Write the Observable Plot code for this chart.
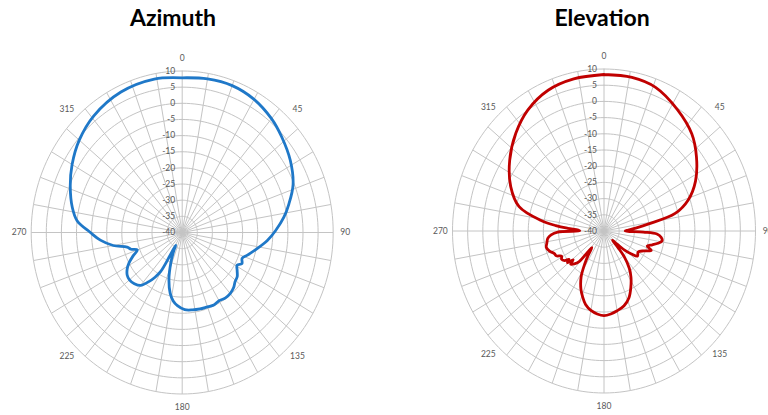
<!DOCTYPE html>
<html>
<head>
<meta charset="utf-8">
<script src="https://cdn.jsdelivr.net/npm/d3@7"></script>
<script src="https://cdn.jsdelivr.net/npm/@observablehq/plot@0.6"></script>
<style>
  html, body { margin: 0; padding: 0; background: #fff; width: 768px; height: 415px; overflow: hidden; }
  .title { position: absolute; font-family: Lato, "Open Sans", sans-serif; font-weight: 700; font-size: 23px; line-height: 23px; color: #000; transform: translateX(-50%); white-space: nowrap; }
  .panel { position: absolute; top: 35px; }
</style>
</head>
<body>
<div class="title" style="left:173px; top:6px;">Azimuth</div>
<div class="title" style="left:602px; top:6px;">Elevation</div>
<div id="az" class="panel" style="left:0px;"></div>
<div id="el" class="panel" style="left:384px;"></div>
<script>
// ---- data (angle in degrees, gain in dB) ----
const azAngle = [0,10,20,30,40,48,58,68,76,82,89,95,102,108,112,116,119,123,127,131,135,140,145,150,155,160,166,172,178,184,188,192,197,202,206,208.5,209.5,210.5,213,216,220,225,230,234,238,242,246,250,253,256,260,265,270,276,282,291,300,310,321,335,349,360];
const azGain  = [7.9,8.3,8.4,7.6,6.0,4.3,2.2,-0.4,-3.6,-6.0,-9.1,-11.7,-15,-17.3,-18.6,-18.0,-19.2,-18.3,-17.2,-16.8,-15.9,-15.3,-15.2,-15.6,-15.2,-15.5,-15.6,-15.8,-16.1,-17.3,-18.6,-20.8,-25,-30,-33.5,-35.5,-32,-26,-23.5,-21.2,-18.6,-17.6,-17.2,-17.5,-18.5,-20.1,-22.2,-24.2,-22.3,-21.2,-16.8,-12.8,-9.6,-5.0,-2.8,-0.3,2.1,4.5,6.5,8.0,8.4,7.9];

const elAngle = [0,11,21,33,44,53,63,71,77,81.5,85,88,90,91.5,93,96,99,102,105,108,111,115,120,125,128,131,134,136,138,140,144,148,153,158,164,170,175,180,185,190,195,199,203,208,212,215,218,219.5,221,224,227,229,231,233,235,238,241,244,247,251,255,259,263,266,268.7,270.5,272,274,276,279,285,294,305,316,326,337,348,360];
const elGain  = [8.3,8.3,7.5,4.6,1.7,-1.8,-6.1,-10.6,-15.9,-25.1,-29.5,-32,-33,-27,-22.5,-21,-20.6,-21.8,-23.5,-25,-23.3,-25.5,-27,-26.5,-28.5,-31,-35,-36,-33,-29.5,-25.8,-23.2,-20.5,-17.9,-16,-15,-14.3,-13.9,-14.3,-15.1,-16.5,-18.4,-20.5,-23.9,-28,-31,-33.5,-31.5,-27.5,-25.9,-25,-26.5,-24.5,-25.5,-24.1,-23.5,-24,-22.5,-22.2,-21,-20.3,-20.8,-21.3,-22.5,-24.7,-32,-31.5,-28,-24,-18.8,-11,-6.3,-2.0,1.9,5.0,7.2,8.0,8.3];

const ringLevels = [-35,-30,-25,-20,-15,-10,-5,0,5,10];
const dbLabels = [-40,-35,-30,-25,-20,-15,-10,-5,0,5,10];
const angleLabels = [0,45,90,135,180,225,270,315];
const spokeAngles = [0,10,20,30,40,50,60,70,80,90,100,110,120,130,140,150,160,170,180,190,200,210,220,230,240,250,260,270,280,290,300,310,320,330,340,350];

// ---- polar helpers ----
const G0 = -40, G1 = 10;
const rho = g => Math.max(0, (g - G0) / (G1 - G0));
const px = (a, r) => r * Math.sin(a * Math.PI / 180);
const py = (a, r) => r * Math.cos(a * Math.PI / 180);

const gridColor = "#c4c4c4";
const textColor = "#595959";
const font = "Lato, 'Open Sans', sans-serif";

function polarChart(angles, gains, color, cx, cy, rx, ry) {
  const series = angles.map((a, i) => ({a, g: gains[i]}));
  const ringData = ringLevels.flatMap(v => d3.range(0, 361, 2).map(a => ({v, a})));
  return Plot.plot({
    width: 384, height: 380, margin: 0,
    x: {domain: [-1, 1], range: [cx - rx, cx + rx], axis: null},
    y: {domain: [-1, 1], range: [cy + ry, cy - ry], axis: null},
    style: {background: "transparent", overflow: "visible"},
    marks: [
      Plot.line(ringData, {x: d => px(d.a, rho(d.v)), y: d => py(d.a, rho(d.v)), z: "v", stroke: gridColor, strokeWidth: 1}),
      Plot.link(spokeAngles, {x1: () => 0, y1: () => 0, x2: a => px(a, 1), y2: a => py(a, 1), stroke: gridColor, strokeWidth: 1}),
      Plot.text(dbLabels, {x: () => 0, y: g => py(0, rho(g)), text: g => String(g), textAnchor: "end", dx: -7, fill: textColor, fontSize: 8.5, fontFamily: font}),
      Plot.text(angleLabels, {x: a => px(a, 1.08), y: a => py(a, 1.08), text: a => String(a), fill: textColor, fontSize: 8.5, fontFamily: font}),
      Plot.line(series, {x: d => px(d.a, rho(d.g)), y: d => py(d.a, rho(d.g)), stroke: color, strokeWidth: 2.8, strokeLinejoin: "round", curve: "catmull-rom"})
    ]
  });
}

document.getElementById("az").append(polarChart(azAngle, azGain, "#1f78c8", 181.7, 197, 151, 161.5));
document.getElementById("el").append(polarChart(elAngle, elGain, "#c00000", 219.5, 195.5, 151.5, 162));
</script>
</body>
</html>
